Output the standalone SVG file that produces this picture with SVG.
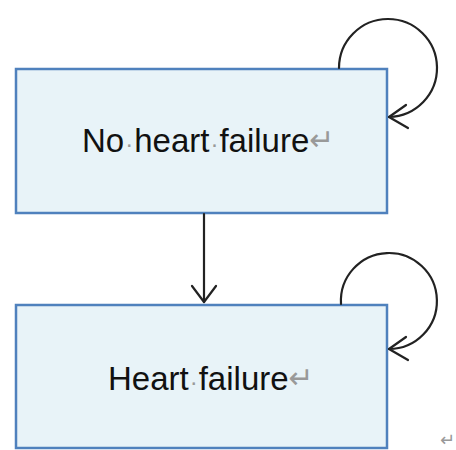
<svg xmlns="http://www.w3.org/2000/svg" width="456" height="450" viewBox="0 0 456 450">
<style>
.box{fill:#e8f3f8;stroke:#4f81bd;stroke-width:2.5}
.lbl{font-family:"Liberation Sans",Arial,sans-serif;font-size:33px;fill:#111}
.mk{fill:#999;font-size:24px}
.ret{font-family:"DejaVu Sans",sans-serif;font-size:30px;fill:#999}
.con{fill:none;stroke:#222;stroke-width:2.2;stroke-linecap:round;stroke-linejoin:round}
</style>
<rect width="456" height="450" fill="#fff"/>
<g id="node-no-heart-failure">
<rect class="box" x="16" y="69" width="371" height="144"/>
<text class="lbl" x="82" y="152">No<tspan class="mk" dx="1">·</tspan><tspan dx="1">heart</tspan><tspan class="mk" dx="1">·</tspan><tspan dx="1">failure</tspan><tspan class="ret" dy="-2">↵</tspan></text>
</g>
<g id="node-heart-failure">
<rect class="box" x="16" y="305" width="371" height="143"/>
<text class="lbl" x="108" y="390">Heart<tspan class="mk" dx="1">·</tspan><tspan dx="1">failure</tspan><tspan class="ret" dy="-2">↵</tspan></text>
</g>
<g id="connectors">
<path class="con" d="M204 214 V302"/>
<path class="con" d="M192 286 L204 302 L216 286"/>
<path class="con" d="M339 68 A49 49 0 1 1 389 117"/>
<path class="con" d="M406 105 L389 117 L408 128"/>
<path class="con" d="M341 304 A48 48 0 1 1 389 349"/>
<path class="con" d="M406 337 L389 349 L408 360"/>
</g>
<text class="ret" x="440" y="446" style="font-size:18px">↵</text>
</svg>
